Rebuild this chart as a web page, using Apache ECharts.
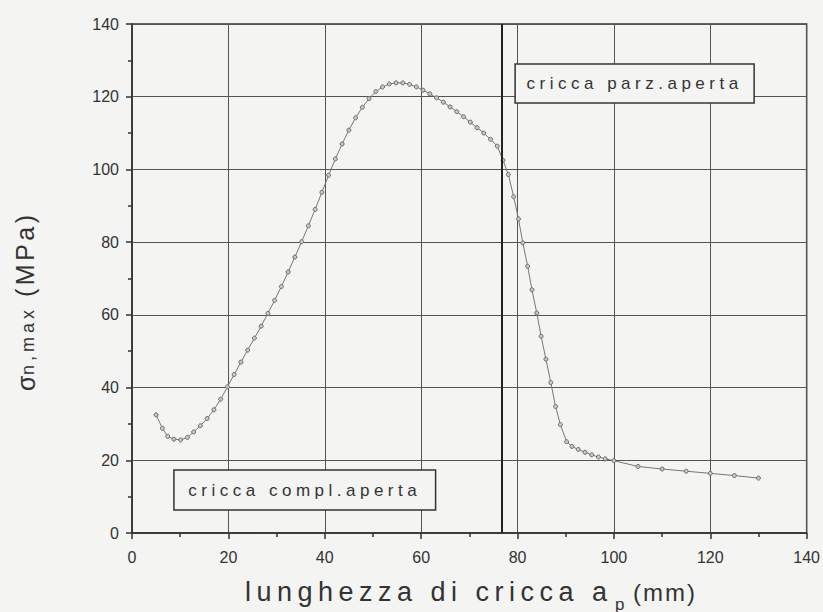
<!DOCTYPE html>
<html>
<head>
<meta charset="utf-8">
<script src="https://cdn.jsdelivr.net/npm/echarts@6/dist/echarts.min.js"></script>
<style>
  html, body { margin: 0; padding: 0; background: #f4f4f2; }
  #chart { width: 823px; height: 612px; }
  text[style*="lsA"], text[font-family*="lsA"] { letter-spacing: 5.5px; }
  text[style*="lsB"], text[font-family*="lsB"] { letter-spacing: 4.5px; }
  text[style*="lsC"], text[font-family*="lsC"] { letter-spacing: 3.5px; }
  text[style*="lsD"], text[font-family*="lsD"] { letter-spacing: 4px; }
  text[style*="lsE"], text[font-family*="lsE"] { letter-spacing: 2px; }
</style>
</head>
<body>
<div id="chart"></div>
<script>
// crack length a_p (mm)
const crackLength = [
  5.0, 6.3, 7.4, 8.7, 10.1, 11.5, 12.8, 14.2, 15.6, 17.0,
  18.4, 19.8, 21.2, 22.6, 24.0, 25.4, 26.8, 28.2, 29.6, 31.0,
  32.4, 33.8, 35.2, 36.6, 38.0, 39.4, 40.8, 42.2, 43.6, 45.0,
  46.4, 47.8, 49.2, 50.6, 52.0, 53.4, 54.8, 56.2, 57.6, 59.0,
  60.4, 61.8, 63.2, 64.6, 66.0, 67.4, 68.8, 70.2, 71.6, 73.0,
  74.4, 75.8, 77.0, 78.1, 79.2, 80.2, 81.1, 82.1, 83.0, 84.0,
  84.9, 85.9, 86.9, 87.9, 88.9, 90.2, 91.3, 92.6, 94.0, 95.4,
  96.8, 98.2, 100.0, 105.0, 110.0, 115.0, 120.0, 125.0, 130.0
];
// sigma_n,max (MPa)
const sigmaMax = [
  32.5, 28.8, 26.6, 25.8, 25.6, 26.3, 27.8, 29.5, 31.5, 33.9,
  36.8, 40.2, 43.6, 47.0, 50.3, 53.6, 56.9, 60.4, 64.0, 67.8,
  71.8, 75.9, 80.1, 84.5, 89.0, 93.7, 98.4, 102.9, 107.0, 110.8,
  114.2, 117.1, 119.5, 121.4, 122.7, 123.5, 123.8, 123.8, 123.4, 122.7,
  121.8, 120.8, 119.7, 118.5, 117.2, 115.9, 114.5, 113.0, 111.5, 110.0,
  108.3, 106.4, 102.5, 98.6, 92.5, 86.4, 79.8, 73.4, 66.9, 60.5,
  54.1, 47.8, 41.4, 34.8, 29.8, 25.1, 23.8, 23.0, 22.2, 21.5,
  20.9, 20.4, 19.9, 18.3, 17.6, 17.0, 16.4, 15.8, 15.1
];
// boundary between fully open and partially open crack (mm)
const openingLimit = [76.8];
const regionLabels = ['cricca compl.aperta', 'cricca parz.aperta'];
const xTicks = [0, 20, 40, 60, 80, 100, 120, 140];
const yTicks = [0, 20, 40, 60, 80, 100, 120, 140];
// axis titles, split into main text / subscript / unit
const xTitle = ['lunghezza di cricca a', 'p', '(mm)'];
const yTitle = ['σ', 'n,max', '(MPa)'];

const BG = '#f4f4f2';
const INK = '#333';
const SANS = 'Liberation Sans, Arial, sans-serif';
const fam = (k) => 'Liberation Sans, ' + k + ', Arial, sans-serif';

const seriesData = crackLength.map((x, i) => [x, sigmaMax[i]]);

const chart = echarts.init(document.getElementById('chart'), null, { renderer: 'svg' });

function axisCommon(ticks, margin) {
  return {
    min: ticks[0],
    max: ticks[ticks.length - 1],
    interval: ticks[1] - ticks[0],
    axisLine: { show: true, onZero: false, lineStyle: { color: INK, width: 1.5 } },
    axisTick: { show: true, inside: false, length: 6, lineStyle: { color: INK, width: 1.5 } },
    minorTick: { show: true, splitNumber: 2, length: 4, lineStyle: { color: INK, width: 1.5 } },
    splitLine: { show: true, lineStyle: { color: '#555', width: 1 } },
    axisLabel: { color: INK, fontSize: 16, fontFamily: SANS, margin: margin }
  };
}

function title(text, x, y, size, family, rot) {
  return {
    type: 'text', x: x, y: y, rotation: rot || 0, silent: true,
    style: {
      text: text, fontSize: size, fontFamily: family, fill: INK,
      textAlign: 'left', textVerticalAlign: 'middle'
    }
  };
}

const option = {
  backgroundColor: BG,
  animation: false,
  grid: {
    left: 132, right: 13, top: 24, bottom: 79,
    show: true, borderColor: INK, borderWidth: 1.5, backgroundColor: 'transparent'
  },
  xAxis: Object.assign(axisCommon(xTicks, 16), { type: 'value' }),
  yAxis: Object.assign(axisCommon(yTicks, 13), { type: 'value' }),
  graphic: [
    title(xTitle[0], 245, 592, 27, fam('lsA')),
    title(xTitle[1], 615, 604, 17, SANS),
    title(xTitle[2], 633, 592, 24, fam('lsE')),
    title(yTitle[0], 26, 391, 25, SANS, Math.PI / 2),
    title(yTitle[1], 28, 375, 18, fam('lsD'), Math.PI / 2),
    title(yTitle[2], 25, 297, 25, fam('lsC'), Math.PI / 2)
  ],
  series: [
    {
      type: 'line',
      data: seriesData,
      symbol: 'circle',
      symbolSize: 4,
      itemStyle: { color: '#c8c8c8', borderColor: '#6a6a6a', borderWidth: 1 },
      lineStyle: { color: '#777', width: 1 },
      z: 3,
      markLine: {
        silent: true,
        symbol: 'none',
        label: { show: false },
        lineStyle: { color: '#222', width: 2, type: 'solid' },
        data: openingLimit.map(v => ({ xAxis: v }))
      },
      markArea: {
        silent: true,
        itemStyle: { color: BG, borderColor: INK, borderWidth: 1.5 },
        label: {
          show: true, position: 'inside', color: INK,
          fontSize: 17, fontFamily: fam('lsB')
        },
        data: [
          [{ name: regionLabels[0], coord: [8.7, 17.3] }, { coord: [63.0, 6.3] }],
          [{ name: regionLabels[1], coord: [79.5, 129.0] }, { coord: [129.1, 118.3] }]
        ]
      }
    }
  ]
};

chart.setOption(option);
</script>
</body>
</html>
